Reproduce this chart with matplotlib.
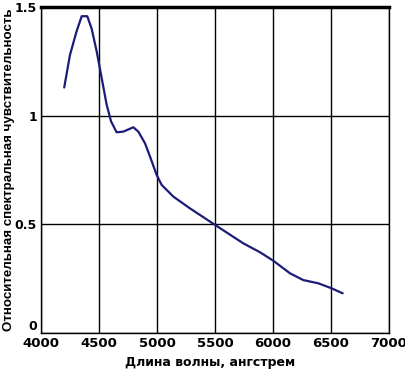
import matplotlib
import matplotlib.pyplot as plt

matplotlib.use('agg')

wavelength = [4200, 4250, 4307, 4351, 4399, 4437, 4480, 4523, 4566, 4604, 4652,
              4710, 4796, 4839, 4897, 4940, 4997, 5040, 5141, 5284, 5500, 5744,
              5888, 6003, 6147, 6261, 6391, 6506, 6601]
sensitivity = [1.13, 1.28, 1.389, 1.458, 1.458, 1.40, 1.296, 1.174, 1.051, 0.974,
               0.924, 0.927, 0.947, 0.927, 0.873, 0.812, 0.728, 0.682, 0.628,
               0.574, 0.498, 0.413, 0.372, 0.333, 0.275, 0.244, 0.229, 0.206, 0.183]

x_ticks = [4000, 4500, 5000, 5500, 6000, 6500, 7000]
y_ticks = [0, 0.5, 1, 1.5]
y_tick_labels = ['0', '0.5', '1', '1.5']

fig = plt.figure(figsize=(4.06, 3.73), dpi=100)
ax = fig.add_axes([0.101, 0.107, 0.857, 0.874])

ax.plot(wavelength, sensitivity, color='#1c1c78', lw=1.6, solid_capstyle='round')

ax.set_xlim(4000, 7000)
ax.set_ylim(0, 1.5)
ax.set_xticks(x_ticks)
ax.set_yticks(y_ticks)
ax.set_yticklabels(y_tick_labels)
ax.grid(True, color='black', lw=1)
ax.tick_params(length=0, pad=3)
ax.tick_params(axis='x', labelsize=9.5)
ax.tick_params(axis='y', labelsize=9)
for lbl in ax.get_xticklabels() + ax.get_yticklabels():
    lbl.set_fontweight('bold')
# the "0" label sits just above the bottom edge
ax.get_yticklabels()[0].set_verticalalignment('bottom')

for side in ['left', 'right', 'bottom']:
    ax.spines[side].set_linewidth(1)
ax.spines['top'].set_linewidth(2.5)

fig.text(0.517, 0.027, 'Длина волны, ангстрем', ha='center', va='center',
         fontsize=9, fontweight='bold')
ylab = fig.text(0.022, 0.545, 'Относительная спектральная чувствительность',
                rotation=90, ha='center', va='center', fontsize=8, fontweight='bold',
                family=['Liberation Sans Narrow', 'Liberation Sans', 'DejaVu Sans'])

# shrink the long y label so it spans the axes height like the original
fig.canvas.draw()
h = ylab.get_window_extent().height
ylab.set_fontsize(8 * 325 / h)

plt.savefig('out.png', dpi=100)
